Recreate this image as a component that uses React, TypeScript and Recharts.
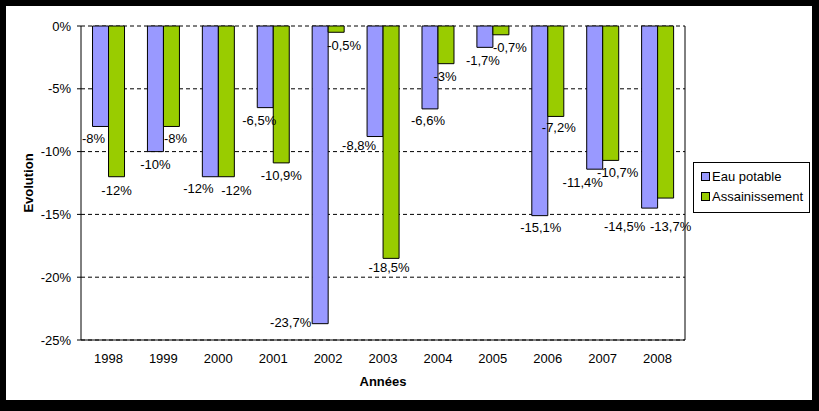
import { BarChart, Bar, XAxis, YAxis, CartesianGrid, Legend, LabelList } from "recharts"

const years = ["1998", "1999", "2000", "2001", "2002", "2003", "2004", "2005", "2006", "2007", "2008"]
const eauPotable = [-8, -10, -12, -6.5, -23.7, -8.8, -6.6, -1.7, -15.1, -11.4, -14.5]
const assainissement = [-12, -8, -12, -10.9, -0.5, -18.5, -3, -0.7, -7.2, -10.7, -13.7]
const yTicks = [0, -5, -10, -15, -20, -25]

const data = years.map((year, i) => ({
  year,
  eau: eauPotable[i],
  assain: assainissement[i],
}))

// Excel shuffled some labels around so they don't collide, [dx, dy] from the bar end
const nudgeEau = [[-7, 12.5], [0, 13], [-12, 12], [-6, 13], [-29.5, -1], [-16, 9], [-2, 12], [-2, 13], [1, 12], [-12, 13], [-25, 18]]
const nudgeAssain = [[0, 14], [4, 12.5], [10, 14], [0, 13], [8, 13], [-2, 9], [-1, 13], [9, 13], [3, 11], [7, 12], [5, 28]]

const FONT = "Arial, 'Liberation Sans', sans-serif"
const BLUE = "#9999FF"
const GREEN = "#99CC00"

const fmt = (v: number) => `${String(v).replace(".", ",")}%`

const makeLabel = (nudges: number[][]) =>
  function BarLabel(props: any) {
    const { x, y, width, height, value, index } = props
    const end = Math.max(y, y + height)
    const [dx, dy] = nudges[index] || [0, 13]
    return (
      <text
        x={x + width / 2 + dx}
        y={end + dy}
        textAnchor="middle"
        dominantBaseline="central"
        fontSize={13}
        fontFamily={FONT}
        fill="#000"
      >
        {fmt(value)}
      </text>
    )
  }

const EauLabel = makeLabel(nudgeEau)
const AssainLabel = makeLabel(nudgeAssain)

// Excel puts the tick marks between categories
const HALF_BAND = 604 / years.length / 2
function TopTick(props: any) {
  const { x, y, index } = props
  return (
    <g>
      <line x1={x - HALF_BAND} y1={y} x2={x - HALF_BAND} y2={y - 4} stroke="#000" />
      {index === years.length - 1 && (
        <line x1={x + HALF_BAND} y1={y} x2={x + HALF_BAND} y2={y - 4} stroke="#000" />
      )}
    </g>
  )
}

function LegendBox() {
  const items = [
    { label: "Eau potable", color: BLUE },
    { label: "Assainissement", color: GREEN },
  ]
  return (
    <div
      style={{
        border: "1px solid #000",
        background: "#fff",
        padding: "3px 0 3px 7px",
        fontFamily: FONT,
        fontSize: 13,
        boxSizing: "border-box",
        height: 51,
      }}
    >
      {items.map((it) => (
        <div key={it.label} style={{ display: "flex", alignItems: "center", height: 20 }}>
          <span
            style={{
              display: "inline-block",
              width: 7,
              height: 7,
              background: it.color,
              border: "1px solid #000",
              marginRight: 2,
            }}
          />
          <span>{it.label}</span>
        </div>
      ))}
    </div>
  )
}

export default function App() {
  return (
    <div style={{ position: "absolute", left: 0, top: 0, width: 819, height: 411, background: "#000" }}>
      <div style={{ position: "absolute", left: 6, top: 6, width: 806, height: 394, background: "#fff" }} />
      <div style={{ position: "absolute", left: 0, top: 0 }}>
        <BarChart
          width={819}
          height={411}
          data={data}
          margin={{ top: 26, right: 133, bottom: 41, left: 21 }}
          barCategoryGap="21%"
          barGap={0}
        >
          <CartesianGrid vertical={false} stroke="#000" strokeDasharray="4 3" />
          <XAxis
            dataKey="year"
            xAxisId={0}
            height={30}
            axisLine={{ stroke: "#000" }}
            tickLine={false}
            tickSize={0}
            tickMargin={14}
            tick={{ fill: "#000", fontSize: 13, fontFamily: FONT }}
            interval={0}
            label={{
              value: "Années",
              position: "bottom",
              offset: 7,
              style: { fill: "#000", fontSize: 13, fontWeight: "bold", fontFamily: FONT },
            }}
          />
          <XAxis
            dataKey="year"
            xAxisId="top"
            orientation="top"
            height={0}
            axisLine={{ stroke: "#000" }}
            tickLine={false}
            tickSize={0}
            tickMargin={0}
            tick={<TopTick />}
            interval={0}
          />
          <YAxis
            yAxisId={0}
            width={60}
            domain={[-25, 0]}
            ticks={yTicks}
            interval={0}
            tickFormatter={(v: number) => `${v}%`}
            axisLine={{ stroke: "#000" }}
            tickLine={{ stroke: "#000" }}
            tickSize={4}
            tickMargin={6}
            tick={{ fill: "#000", fontSize: 13, fontFamily: FONT }}
            label={{
              value: "Evolution",
              angle: -90,
              position: "insideLeft",
              offset: 7,
              style: { textAnchor: "middle", fill: "#000", fontSize: 13, fontWeight: "bold", fontFamily: FONT },
            }}
          />
          <YAxis
            yAxisId="right"
            orientation="right"
            width={1}
            domain={[-25, 0]}
            tick={false}
            tickLine={false}
            axisLine={{ stroke: "#000" }}
          />
          <Legend
            layout="vertical"
            align="center"
            verticalAlign="middle"
            content={<LegendBox />}
            wrapperStyle={{ left: 693, top: 162, width: 117, height: 51 }}
          />
          <Bar dataKey="eau" name="Eau potable" fill={BLUE} stroke="#000" strokeWidth={1} isAnimationActive={false}>
            <LabelList dataKey="eau" content={<EauLabel />} />
          </Bar>
          <Bar dataKey="assain" name="Assainissement" fill={GREEN} stroke="#000" strokeWidth={1} isAnimationActive={false}>
            <LabelList dataKey="assain" content={<AssainLabel />} />
          </Bar>
        </BarChart>
      </div>
    </div>
  )
}
